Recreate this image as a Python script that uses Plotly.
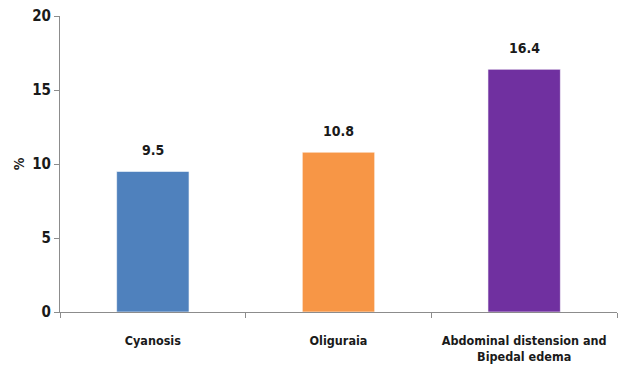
import plotly.graph_objects as go

categories = ["Cyanosis", "Oliguraia", "Abdominal distension and<br>Bipedal edema"]
values = [9.5, 10.8, 16.4]
colors = ["#4F81BD", "#F79646", "#7030A0"]
y_ticks = [0, 5, 10, 15, 20]

font_family = "DejaVu Sans Condensed, Liberation Sans Narrow, sans-serif"
text_color = "#1a1a1a"
axis_color = "#8c8c8c"

fig = go.Figure(
    go.Bar(
        x=categories,
        y=values,
        marker=dict(color=colors, line=dict(color="rgba(255,255,255,0.6)", width=1)),
        width=0.39,
        hoverinfo="x+y",
    )
)

# value labels sitting a little above each bar
for cat, val in zip(categories, values):
    fig.add_annotation(
        x=cat,
        y=val,
        text=f"{val}",
        showarrow=False,
        yanchor="bottom",
        yshift=11,
        font=dict(family=font_family, size=14, color=text_color, weight="bold"),
    )

fig.update_layout(
    width=621,
    height=380,
    margin=dict(l=60, r=4, t=16, b=68),
    paper_bgcolor="white",
    plot_bgcolor="white",
    showlegend=False,
    font=dict(family=font_family, color=text_color),
)

fig.update_xaxes(
    showline=True,
    linecolor=axis_color,
    linewidth=1,
    ticks="outside",
    tickson="boundaries",
    ticklen=5,
    tickcolor=axis_color,
    showgrid=False,
    ticklabelstandoff=17,
    tickfont=dict(family=font_family, size=12.5, color=text_color, weight="bold"),
)

fig.update_yaxes(
    range=[0, 20],
    tickvals=y_ticks,
    showline=True,
    linecolor=axis_color,
    linewidth=1,
    ticks="outside",
    ticklen=5,
    tickcolor=axis_color,
    showgrid=False,
    zeroline=False,
    tickfont=dict(family=font_family, size=15, color=text_color, weight="bold"),
    title=dict(text="%", font=dict(family=font_family, size=14, color=text_color, weight="bold"), standoff=4),
)

fig.write_html("out.html")
